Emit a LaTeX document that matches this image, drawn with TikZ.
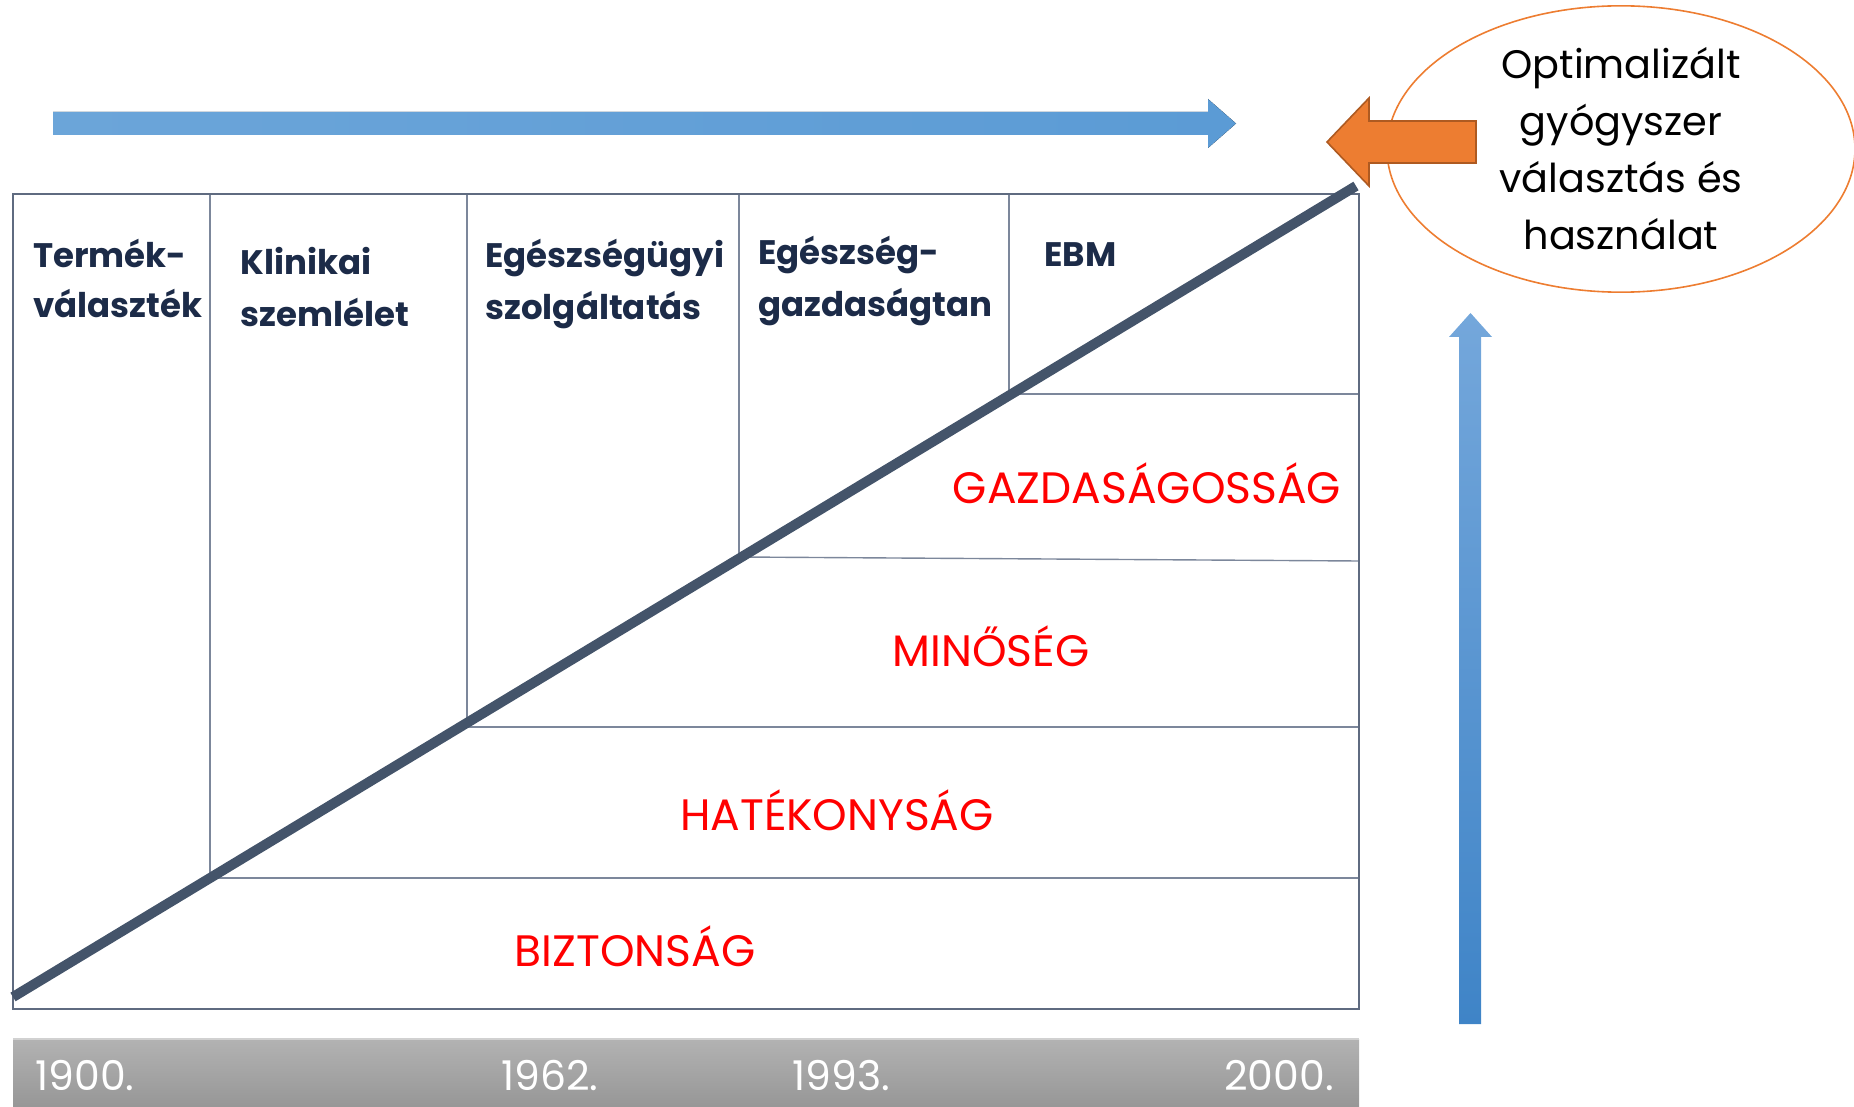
\documentclass[tikz,border=0pt]{standalone}
\usepackage{fontspec}
\setmainfont{Poppins}
\usetikzlibrary{shapes.geometric}
\definecolor{navy}{HTML}{1C2B48}
\definecolor{slate}{HTML}{44546A}
\definecolor{frame}{HTML}{5F6B80}
\definecolor{innerl}{HTML}{7C879B}
\definecolor{ored}{HTML}{FF0000}
\definecolor{oorange}{HTML}{ED7D31}
\definecolor{oorangedark}{HTML}{AE5A21}
\definecolor{bluetop}{HTML}{74A7DB}
\definecolor{bluebot}{HTML}{3F84C7}
\definecolor{bluemid}{HTML}{5B9BD5}
\begin{document}
\begin{tikzpicture}[x=0.5pt,y=-0.5pt,
  hdr/.style={anchor=base west,inner sep=0pt,text=navy,font=\fontsize{17}{20}\selectfont\bfseries},
  cat/.style={anchor=base,inner sep=0pt,text=ored,font=\fontsize{22}{26}\selectfont},
  yr/.style={anchor=base west,inner sep=0pt,text=white,font=\fontsize{20.5}{24}\selectfont},
  thin/.style={draw=innerl,line width=0.7pt},
]
\useasboundingbox (0,0) rectangle (1854,1107);
% top horizontal arrow
\fill[left color=bluemid!90!white,right color=bluemid] (53,112) -- (1208,112) -- (1208,99) -- (1236,123.5) -- (1208,148) -- (1208,135) -- (53,135) -- cycle;
% ellipse
\node[ellipse,draw=oorange,line width=0.8pt,minimum width=234pt,minimum height=140pt,inner sep=0pt,align=center,
  font=\fontsize{19.9}{28.5}\selectfont] (goal) at (1621,149)
  {Optimalizált\\gyógyszer\\választás és\\használat};
% orange arrow
\draw[fill=oorange,draw=oorangedark,line width=0.8pt] (1476,121) -- (1369,121) -- (1369,98) -- (1327,142) -- (1369,186) -- (1369,163) -- (1476,163) -- cycle;
% vertical arrow
\shade[top color=bluetop,bottom color=bluebot] (1459,1024) -- (1459,337) -- (1449,337) -- (1470.5,313) -- (1492,337) -- (1481,337) -- (1481,1024) -- cycle;
% main frame
\draw[thin] (210,194) -- (210,878);
\draw[thin] (467,194) -- (467,727);
\draw[thin] (739,194) -- (739,559);
\draw[thin] (1009,194) -- (1009,394);
\draw[thin] (1009,394) -- (1359,394);
\draw[thin] (739,557) -- (1359,561);
\draw[thin] (467,727) -- (1359,727);
\draw[thin] (210,878) -- (1359,878);
\draw[draw=frame,line width=1.1pt] (13,194) rectangle (1359,1009);
% diagonal
\draw[slate,line width=5pt] (13,997) -- (1356,186);
% headers
\node[hdr] (h1a) at (33,268) {Termék-};
\node[hdr] (h1b) at (33,318) {választék};
\node[hdr] (h2a) at (240,275) {Klinikai};
\node[hdr] (h2b) at (240,327) {szemlélet};
\node[hdr] (h3a) at (485,268) {Egészségügyi};
\node[hdr] (h3b) at (485,320) {szolgáltatás};
\node[hdr] (h4a) at (758,265) {Egészség-};
\node[hdr] (h4b) at (758,317) {gazdaságtan};
\node[hdr] (h5) at (1044,267) {EBM};
% categories
\node[cat] (c1) at (1147,503) {GAZDASÁGOSSÁG};
\node[cat] (c2) at (991,666) {MINŐSÉG};
\node[cat] (c3) at (837,830) {HATÉKONYSÁG};
\node[cat] (c4) at (635,966) {BIZTONSÁG};
% year bar
\shade[top color=black!30,bottom color=black!41] (13,1039) rectangle (1359,1107);
\draw[black!18,line width=0.8pt] (13,1039) -- (1359,1039);
\node[yr] (y1) at (35,1090) {1900.};
\node[yr] (y2) at (501,1090) {1962.};
\node[yr] (y3) at (792,1090) {1993.};
\node[yr,anchor=base east] (y4) at (1334,1090) {2000.};
\end{tikzpicture}
\end{document}
